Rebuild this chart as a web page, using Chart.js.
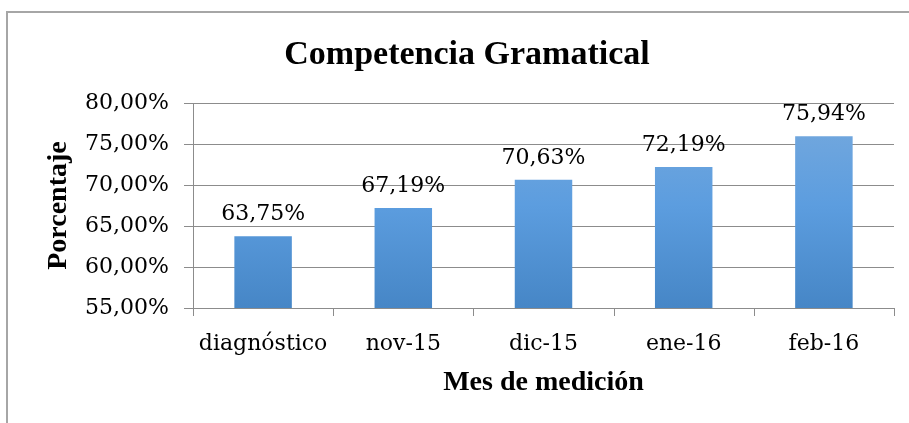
<!DOCTYPE html>
<html>
<head>
<meta charset="utf-8">
<script src="https://cdn.jsdelivr.net/npm/chart.js@4/dist/chart.umd.min.js"></script>
<style>
  html, body { margin: 0; padding: 0; background: #fff; }
  #wrap { position: relative; width: 909px; height: 423px; overflow: hidden; }
  #frame { position: absolute; left: 6px; top: 11px; width: 960px; height: 500px; border: 2px solid #a6a6a6; box-sizing: border-box; }
  canvas { position: absolute; left: 0; top: 0; }
</style>
</head>
<body>
<div id="wrap">
  <div id="frame"></div>
  <canvas id="c" width="909" height="423"></canvas>
</div>
<script>
const chartTitle = "Competencia Gramatical";
const xTitle = "Mes de medición";
const yTitle = "Porcentaje";
const categories = ["diagnóstico", "nov-15", "dic-15", "ene-16", "feb-16"];
const values = [63.75, 67.19, 70.63, 72.19, 75.94];
const yMin = 55, yMax = 80, yStep = 5;

const regFont = "'DejaVu Serif', serif";
const boldFont = "'Liberation Serif', serif";

function fmt(v) { return v.toFixed(2).replace('.', ',') + '%'; }

const labelPlugin = {
  id: 'barLabels',
  afterDatasetsDraw(chart) {
    const ctx = chart.ctx;
    const meta = chart.getDatasetMeta(0);
    ctx.save();
    ctx.font = "22px " + regFont;
    ctx.fillStyle = '#000';
    ctx.textAlign = 'center';
    ctx.textBaseline = 'alphabetic';
    meta.data.forEach((bar, i) => {
      ctx.fillText(fmt(values[i]), bar.x, bar.y - 16);
    });
    ctx.restore();
  }
};

const ctx = document.getElementById('c').getContext('2d');
new Chart(ctx, {
  type: 'bar',
  data: {
    labels: categories,
    datasets: [{
      data: values,
      backgroundColor(c) {
        const area = c.chart.chartArea;
        if (!area) return '#5b9bd5';
        const g = c.chart.ctx.createLinearGradient(0, area.top, 0, area.bottom);
        g.addColorStop(0, '#78aadd');
        g.addColorStop(0.5, '#5c9ddf');
        g.addColorStop(1, '#4686c6');
        return g;
      },
      borderWidth: 0,
      categoryPercentage: 0.41,
      barPercentage: 1.0
    }]
  },
  options: {
    responsive: false,
    animation: false,
    devicePixelRatio: 1,
    layout: { padding: { left: 40, right: 15, top: 0, bottom: 0 } },
    plugins: {
      legend: { display: false },
      tooltip: { enabled: false },
      title: {
        display: true,
        text: chartTitle,
        color: '#000',
        font: { family: boldFont, size: 34, weight: 'bold' },
        padding: { top: 34.6, bottom: 27.6 }
      }
    },
    scales: {
      x: {
        grid: { display: false, drawOnChartArea: false },
        border: { color: '#8c8c8c', width: 1 },
        ticks: { color: '#000', font: { family: regFont, size: 22 }, padding: 15 },
        title: { display: true, text: xTitle, color: '#000', font: { family: boldFont, size: 28, weight: 'bold' }, padding: { top: 0, bottom: 23 } },
        afterFit(s) { s.height = 423 - 308; }
      },
      y: {
        min: yMin, max: yMax,
        ticks: { stepSize: yStep, color: '#000', font: { family: regFont, size: 22 }, padding: 15, callback: v => fmt(v) },
        grid: { color: '#8c8c8c', lineWidth: 1, tickLength: 9, drawTicks: true },
        border: { color: '#8c8c8c', width: 1 },
        title: { display: true, text: yTitle, color: '#000', font: { family: boldFont, size: 28, weight: 'bold' }, padding: { top: 2, bottom: 0 } },
        afterFit(s) { s.width = 153; }
      }
    }
  },
  plugins: [labelPlugin, {
    id: 'xTicks',
    afterDraw(chart) {
      const c = chart.ctx, a = chart.chartArea, xs = chart.scales.x;
      c.save();
      c.strokeStyle = '#8c8c8c'; c.lineWidth = 1;
      for (let i = 0; i <= categories.length; i++) {
        const x = Math.round(xs.left + (xs.right - xs.left) * i / categories.length) + 0.5;
        c.beginPath(); c.moveTo(x, a.bottom); c.lineTo(x, a.bottom + 8); c.stroke();
      }
      c.restore();
    }
  }]
});
</script>
</body>
</html>
